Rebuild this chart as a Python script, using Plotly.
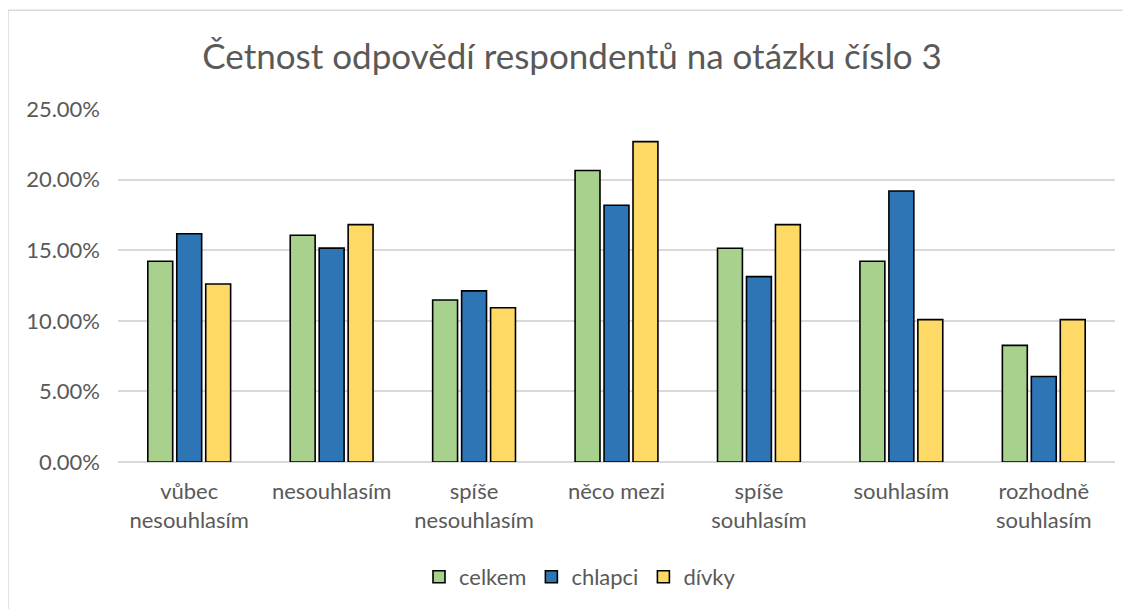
import plotly.graph_objects as go

categories = ["vůbec<br>nesouhlasím", "nesouhlasím", "spíše<br>nesouhlasím", "něco mezi",
              "spíše<br>souhlasím", "souhlasím", "rozhodně<br>souhlasím"]
celkem = [0.1422, 0.1606, 0.1147, 0.2064, 0.1514, 0.1422, 0.0826]
chlapci = [0.1616, 0.1515, 0.1212, 0.1818, 0.1313, 0.1919, 0.0606]
divky = [0.1261, 0.1681, 0.1092, 0.2269, 0.1681, 0.1008, 0.1008]
series_names = ["celkem", "chlapci", "dívky"]
colors = ["#a9d18e", "#2e75b6", "#ffd966"]

OFF = 8  # browser body margin
W, H = 1131 - OFF, 609 - OFF
ml, mr = 118 - OFF, 1131 - 1115
mt, mb = 109 - OFF, 609 - 463
pw, ph = W - ml - mr, H - mt - mb

fig = go.Figure()
for name, vals, col in zip(series_names, [celkem, chlapci, divky], colors):
    fig.add_trace(go.Bar(
        x=categories, y=vals, name=name,
        marker=dict(color=col, line=dict(color="#000000", width=1.6)),
    ))

font_family = "Lato, 'Open Sans', sans-serif"
fig.update_layout(
    width=W, height=H,
    margin=dict(l=ml, r=mr, t=mt, b=mb),
    paper_bgcolor="white", plot_bgcolor="white",
    barmode="group", bargap=0.39, bargroupgap=0.14,
    title=dict(text="Četnost odpovědí respondentů na otázku číslo 3",
               x=(572 - OFF) / W, xanchor="center", y=1 - (57 - OFF) / H, yanchor="middle",
               font=dict(family=font_family, size=35, color="#595959")),
    font=dict(family=font_family, color="#595959"),
    showlegend=True,
    legend=dict(orientation="h", x=(580 - 118) / pw, xanchor="center",
                y=-(577 - 463) / ph, yanchor="middle",
                font=dict(size=22, color="#595959"),
                itemwidth=30, tracegroupgap=0, traceorder="normal"),
)
fig.update_yaxes(range=[0, 0.25], dtick=0.05, tickformat=".2%",
                 showgrid=True, gridcolor="#d9d9d9", gridwidth=1.5,
                 zeroline=True, zerolinecolor="#d9d9d9", zerolinewidth=1.5,
                 showline=False, ticks="", ticklabelstandoff=17,
                 tickfont=dict(size=22, color="#595959"))
fig.update_xaxes(showline=False, ticks="", showgrid=False,
                 tickfont=dict(size=22, color="#595959"), ticklabelstandoff=14)

# outer chart border (only left and top visible in the cropped original)
def px_x(p):
    return (p - 118) / pw
def px_y(p):
    return 1 - (p - 109) / ph
fig.add_shape(type="line", xref="paper", yref="paper",
              x0=px_x(8), x1=px_x(8), y0=px_y(10), y1=px_y(620),
              line=dict(color="#d9d9d9", width=1.5))
fig.add_shape(type="line", xref="paper", yref="paper",
              x0=px_x(8), x1=px_x(1140), y0=px_y(10), y1=px_y(10),
              line=dict(color="#d9d9d9", width=1.5))

fig.write_html("out.html")
